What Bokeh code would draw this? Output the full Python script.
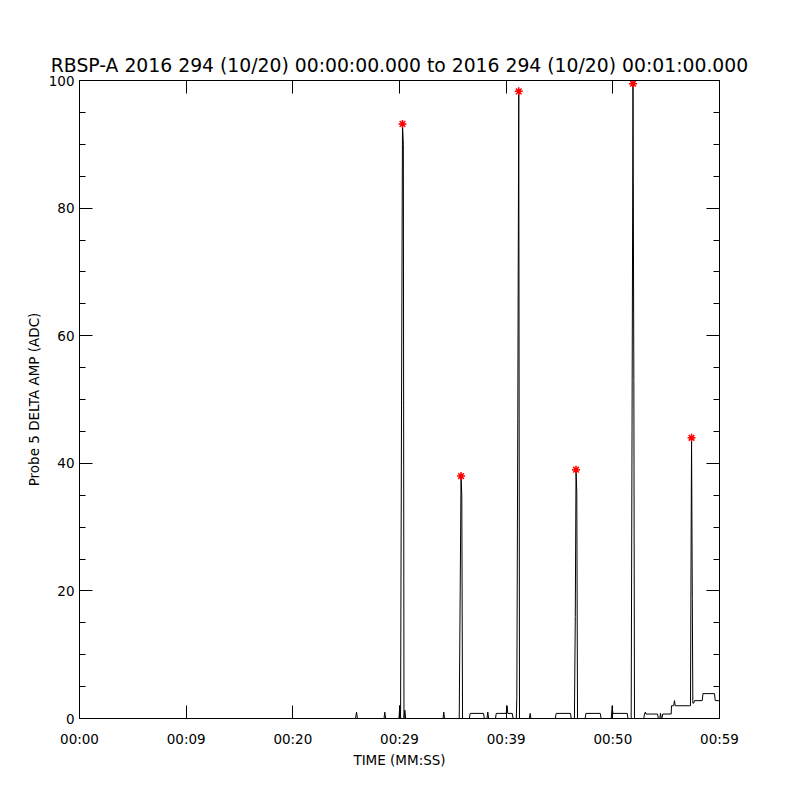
from bokeh.plotting import figure
from bokeh.models import LinearAxis, FixedTicker, Range1d
from bokeh.embed import file_html
from bokeh.resources import INLINE

# ---- data (seconds since 00:00:00, ADC) ----
time_s = [
    0.0, 25.88, 25.97, 26.06,
    28.55, 28.62, 28.70,
    29.95, 30.03, 30.10, 30.19, 30.28, 30.36, 30.42, 30.50, 30.58,
    34.08, 34.15, 34.22,
    35.60, 35.69, 35.77, 35.84, 35.91,
    36.55, 36.63, 37.88, 37.95,
    38.20, 38.28, 38.35,
    39.00, 39.07, 40.00, 40.09, 40.15, 40.57, 40.65,
    40.95, 41.00, 41.09, 41.18, 41.25,
    42.18, 42.25, 42.32,
    44.60, 44.69, 46.03, 46.10,
    46.40, 46.48, 46.55, 46.62, 46.69,
    47.40, 47.48, 48.82, 48.90,
    49.85, 49.94, 50.00, 51.35, 51.42,
    51.72, 51.80, 51.89, 51.97, 52.03,
    52.90, 52.97, 53.05, 53.10, 54.19, 54.27, 54.40, 54.47, 54.55, 54.60, 54.68,
    55.47, 55.50, 55.70, 55.78, 55.85, 57.20,
    57.28, 57.33, 57.38, 57.45, 57.50, 57.58, 57.66,
    58.38, 58.45, 59.53, 59.60, 60.0,
]
amp_adc = [
    0.0, 0.0, 1.0, 0.0,
    0.0, 1.0, 0.0,
    0.0, 2.0, 0.0, 49.0, 93.2, 90.0, 0.0, 1.3, 0.0,
    0.0, 1.0, 0.0,
    0.0, 20.0, 38.0, 35.0, 0.0,
    0.0, 0.8, 0.8, 0.0,
    0.0, 1.0, 0.0,
    0.0, 0.8, 0.8, 2.0, 0.8, 0.8, 0.0,
    0.0, 3.3, 47.0, 98.3, 0.0,
    0.0, 0.8, 0.0,
    0.0, 0.8, 0.8, 0.0,
    0.0, 16.0, 39.0, 35.5, 0.0,
    0.0, 0.8, 0.8, 0.0,
    0.0, 2.0, 0.8, 0.8, 0.0,
    0.0, 45.4, 99.5, 53.0, 0.0,
    0.0, 0.7, 1.0, 0.7, 0.7, 0.0, 0.0, 0.8, 0.0, 0.0, 0.7,
    0.7, 2.0, 2.0, 2.8, 2.0, 2.0,
    2.0, 24.3, 44.0, 18.8, 2.4, 2.4, 2.8,
    2.8, 3.9, 3.9, 2.8, 2.8,
]

peak_time_s = [30.28, 35.77, 41.18, 46.55, 51.89, 57.38]
peak_amp = [93.2, 38.0, 98.3, 39.0, 99.5, 44.0]

x_ticks = [0, 10, 20, 30, 40, 50, 60]
x_tick_labels = ["00:00", "00:09", "00:20", "00:29", "00:39", "00:50", "00:59"]
y_ticks = [0, 20, 40, 60, 80, 100]
y_minor = [v for v in range(0, 101, 5)]

title_text = "RBSP-A 2016 294 (10/20) 00:00:00.000 to 2016 294 (10/20) 00:01:00.000"
FONT = "DejaVu Sans"

p = figure(width=784, height=784, output_backend="svg", toolbar_location=None,
           x_range=Range1d(0, 60), y_range=Range1d(0, 100),
           x_axis_type=None, y_axis_type=None,
           min_border_left=79, min_border_right=65, min_border_top=80, min_border_bottom=66,
           title=title_text)
p.title.text_font = FONT
p.title.text_font_size = "18.8px"
p.title.text_font_style = "normal"
p.title.align = "center"
p.title.text_color = "black"
p.title.standoff = 9
p.xgrid.visible = False
p.ygrid.visible = False
p.outline_line_color = "black"
p.background_fill_color = "white"
p.border_fill_color = "white"

xt = FixedTicker(ticks=x_ticks, minor_ticks=[])
yt = FixedTicker(ticks=y_ticks, minor_ticks=y_minor)
overrides = {t: l for t, l in zip(x_ticks, x_tick_labels)}


def style(ax, labels=True):
    ax.axis_line_color = "black"
    ax.major_tick_line_color = "black"
    ax.minor_tick_line_color = "black"
    ax.major_tick_in = 13
    ax.major_tick_out = 0
    ax.minor_tick_in = 6
    ax.minor_tick_out = 0
    ax.major_label_text_font = FONT
    ax.major_label_text_font_size = "13.5px"
    ax.major_label_text_color = "black"
    ax.axis_label_text_font = FONT
    ax.axis_label_text_font_size = "13.5px"
    ax.axis_label_text_font_style = "normal"
    ax.axis_label_text_color = "black"
    if not labels:
        ax.major_label_text_font_size = "0px"
        ax.major_label_text_color = None


xb = LinearAxis(ticker=xt, major_label_overrides=overrides, axis_label="TIME (MM:SS)")
style(xb)
xb.major_label_standoff = 12
xb.axis_label_standoff = 2
p.add_layout(xb, "below")

xa = LinearAxis(ticker=xt)
style(xa, labels=False)
p.add_layout(xa, "above")

yl = LinearAxis(ticker=yt, axis_label="Probe 5 DELTA AMP (ADC)")
style(yl)
yl.major_label_standoff = 5
yl.axis_label_standoff = 4
p.add_layout(yl, "left")

yr = LinearAxis(ticker=yt)
style(yr, labels=False)
p.add_layout(yr, "right")

p.line(time_s, amp_adc, line_color="black", line_width=1)
p.scatter(peak_time_s, peak_amp, marker="asterisk", size=8, line_color="red", line_width=1.5)

open("out.html", "w").write(file_html(p, INLINE))
